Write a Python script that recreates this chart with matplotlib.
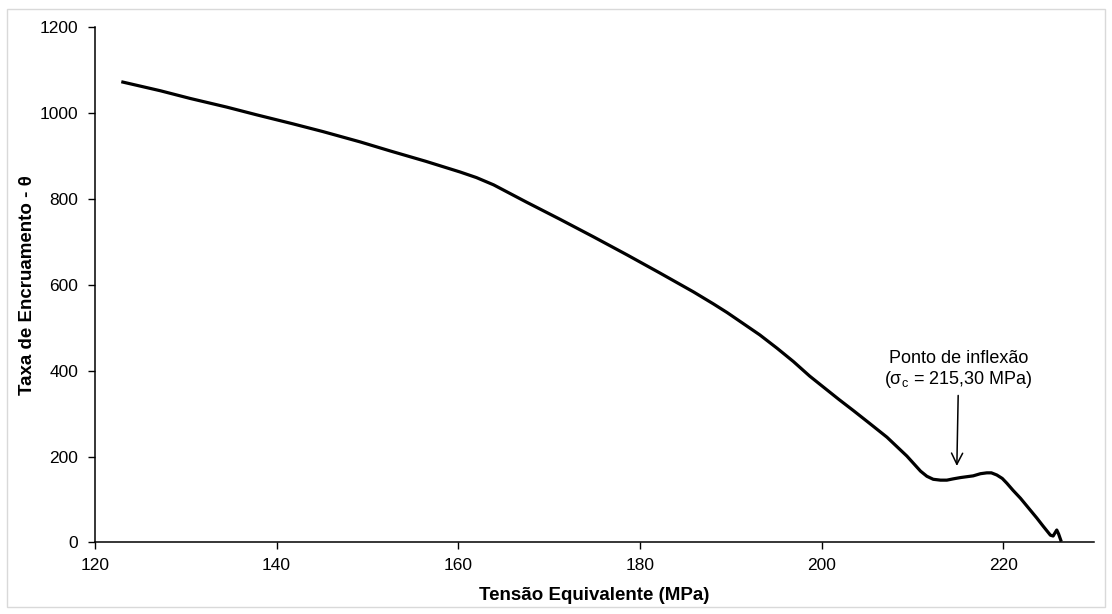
import matplotlib
matplotlib.use("Agg")
import matplotlib.pyplot as plt
from matplotlib.patches import Rectangle

# Equivalent stress (MPa) and work-hardening rate
stress = [122.9, 127.2, 130.5, 134.5, 137.8, 141.8, 145.1, 149.2, 152.5,
          156.4, 160.2, 162.0, 163.9, 167.5, 171.2, 174.9, 178.6, 182.2,
          185.9, 188.1, 189.6, 193.2, 195.1, 196.9, 198.7, 201.9, 203.5,
          205.3, 207.2, 208.3, 209.4, 210.9, 211.6, 212.3, 213.1, 213.8,
          214.5, 215.3, 216.0, 216.7, 217.5, 218.2, 218.7, 219.3, 219.9,
          220.4, 221.1, 221.9, 222.8, 223.7, 224.4, 225.2, 225.5, 225.9,
          226.1, 226.4]
theta = [1072, 1051, 1033, 1013, 995, 974, 956, 932, 911,
         887, 862, 849, 832, 792, 752, 711, 669, 627,
         583, 555, 535, 483, 452, 421, 387, 333, 307,
         277, 245, 223, 201, 166, 154, 147, 145, 145,
         148, 151, 153, 155, 160, 162, 162, 157, 149,
         138, 121, 103, 80, 57, 38, 17, 15, 29,
         20, 2]

inflection_stress = 215.30
x_ticks = [120, 140, 160, 180, 200, 220]
y_ticks = [0, 200, 400, 600, 800, 1000, 1200]

plt.rcParams['font.family'] = ['Liberation Sans', 'DejaVu Sans']
plt.rcParams['mathtext.default'] = 'regular'

fig = plt.figure(figsize=(11.12, 6.14), dpi=100)
ax = fig.add_axes([0.0854, 0.1165, 0.8984, 0.84])

ax.plot(stress, theta, color='black', linewidth=2.3,
        solid_joinstyle='round', solid_capstyle='butt')

ax.set_xlim(120, 230)
ax.set_ylim(0, 1200)
ax.set_xticks(x_ticks)
ax.set_yticks(y_ticks)
ax.tick_params(direction='out', length=5, width=1, labelsize=12.5, colors='black')
ax.tick_params(axis='x', pad=6)
ax.tick_params(axis='y', pad=7)

for side in ['top', 'right']:
    ax.spines[side].set_visible(False)
for side in ['left', 'bottom']:
    ax.spines[side].set_linewidth(1.1)

ax.set_xlabel('Tensão Equivalente (MPa)', fontsize=13.5, fontweight='bold', labelpad=10)
ax.set_ylabel('Taxa de Encruamento - θ', fontsize=13.5, fontweight='bold', labelpad=3)

# inflection point annotation
label = 'Ponto de inflexão\n(σ$_\\mathregular{c}$ = ' + f'{inflection_stress:.2f}'.replace('.', ',') + ' MPa)'
ax.annotate(label, xy=(214.9, 178), xytext=(215.1, 355),
            ha='center', va='bottom', fontsize=13, linespacing=1.15,
            arrowprops=dict(arrowstyle='->', color='black', lw=1.1,
                            mutation_scale=20, shrinkA=2, shrinkB=0))

# thin grey frame round the chart area
fig.patches.append(Rectangle((7 / 1112, 7 / 614), 1098 / 1112, 598 / 614,
                             transform=fig.transFigure, fill=False,
                             edgecolor='#d9d9d9', linewidth=1))

fig.savefig('out.png', dpi=100)
